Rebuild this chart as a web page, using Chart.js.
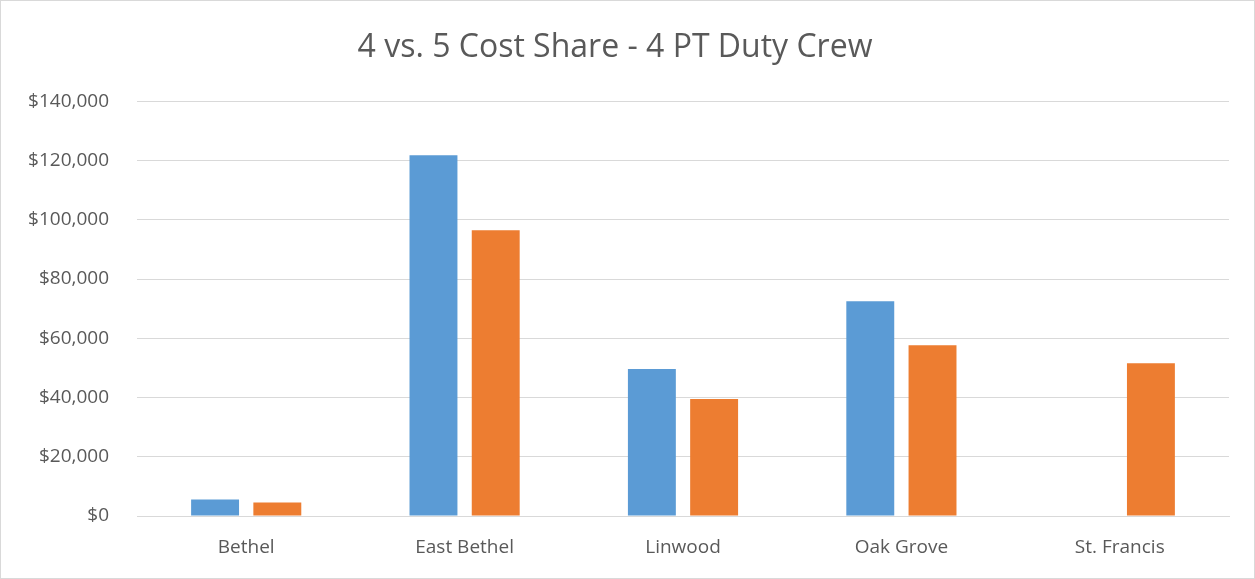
<!DOCTYPE html>
<html>
<head>
<meta charset="utf-8">
<script src="https://cdn.jsdelivr.net/npm/chart.js@4/dist/chart.umd.min.js"></script>
<style>
  html, body { margin: 0; padding: 0; background: #fff; }
  #wrap { width: 1255px; height: 579px; box-sizing: border-box; border: 1px solid #d9d9d9; position: relative; }
</style>
</head>
<body>
<div id="wrap"><canvas id="myChart"></canvas></div>
<script>
document.addEventListener('DOMContentLoaded', function() {
  // Chart data
  var categories = ['Bethel', 'East Bethel', 'Linwood', 'Oak Grove', 'St. Francis'];
  var series4 = [5600, 121800, 49600, 72500, null];
  var series5 = [4600, 96500, 39500, 57700, 51600];
  var yTicks = [0, 20000, 40000, 60000, 80000, 100000, 120000, 140000];

  var textColor = '#595959';
  var fontFamily = '"Open Sans", "Noto Sans", sans-serif';

  var config = {
    type: 'bar',
    data: {
      labels: categories,
      datasets: [{
        label: '4',
        backgroundColor: '#5B9BD5',
        data: series4
      }, {
        label: '5',
        backgroundColor: '#ED7D31',
        data: series5
      }]
    },
    options: {
      responsive: true,
      maintainAspectRatio: false,
      animation: false,
      layout: { padding: { left: 0, right: 25, top: 0, bottom: 0 } },
      datasets: {
        bar: { categoryPercentage: 0.57, barPercentage: 0.77 }
      },
      plugins: {
        legend: { display: false },
        tooltip: { enabled: false },
        title: {
          display: true,
          text: '4 vs. 5 Cost Share - 4 PT Duty Crew',
          color: textColor,
          font: { family: fontFamily, size: 32, weight: 'normal', lineHeight: 1.2 },
          padding: { top: 28, bottom: 34 }
        }
      },
      scales: {
        x: {
          grid: { display: false, drawTicks: false },
          border: { display: true, color: '#d9d9d9', width: 1 },
          ticks: { color: textColor, font: { family: fontFamily, size: 19 }, padding: 20 },
          afterFit: function(scale) { scale.height = 62; }
        },
        y: {
          min: 0,
          max: 140000,
          afterBuildTicks: function(scale) {
            scale.ticks = yTicks.map(function(v) { return { value: v }; });
          },
          grid: { color: '#d9d9d9', drawTicks: false },
          border: { display: false },
          ticks: {
            color: textColor,
            font: { family: fontFamily, size: 19 },
            padding: 28,
            callback: function(v) { return '$' + v.toLocaleString('en-US'); }
          },
          afterFit: function(scale) { scale.width = 136; }
        }
      }
    }
  };

  var ctx = document.getElementById('myChart').getContext('2d');
  var myChart = new Chart(ctx, config);
});
</script>
</body>
</html>
